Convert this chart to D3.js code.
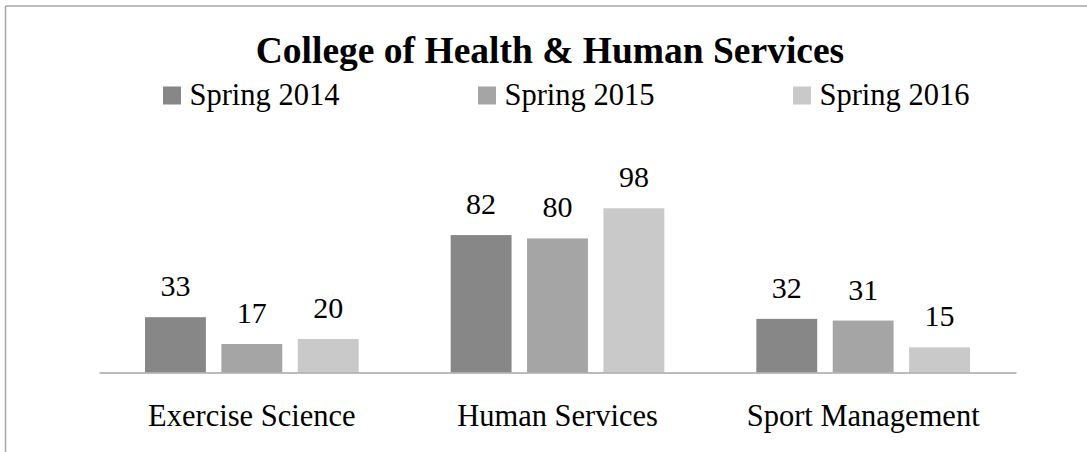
<!DOCTYPE html>
<html>
<head>
<meta charset="utf-8">
<script src="https://cdn.jsdelivr.net/npm/d3@7"></script>
<style>
  html, body { margin: 0; padding: 0; background: #ffffff; }
  svg { display: block; }
</style>
</head>
<body>
<svg id="chart" width="1087" height="452"></svg>
<script>
const title = "College of Health & Human Services";
const categories = ["Exercise Science", "Human Services", "Sport Management"];
const series = ["Spring 2014", "Spring 2015", "Spring 2016"];
const spring2014 = [33, 82, 32];
const spring2015 = [17, 80, 31];
const spring2016 = [20, 98, 15];
const seriesValues = [spring2014, spring2015, spring2016];
const colors = ["#878787", "#a5a5a5", "#c9c9c9"];

const svg = d3.select("#chart");
const font = "'Liberation Serif', 'Times New Roman', serif";

// frame (top and left border lines)
svg.append("line").attr("x1", 5.5).attr("y1", 6).attr("x2", 1087).attr("y2", 6)
  .attr("stroke", "#a6a6a6").attr("stroke-width", 1.5);
svg.append("line").attr("x1", 5.5).attr("y1", 6).attr("x2", 5.5).attr("y2", 452)
  .attr("stroke", "#a6a6a6").attr("stroke-width", 1.5);

// scales
const x0 = d3.scaleBand().domain(categories).range([99, 1016]).paddingInner(0).paddingOuter(0);
const bw = x0.bandwidth();
const x1 = d3.scaleBand().domain(series).range([bw * 0.1505, bw * 0.8495]).paddingInner(0.203).paddingOuter(0);
const y = d3.scaleLinear().domain([0, 120]).range([372.5, 372.5 - 120 * 1.676]);

// data table
const table = categories.map((c, i) => ({
  category: c,
  values: series.map((s, j) => ({ series: s, value: seriesValues[j][i], color: colors[j] }))
}));

// title
svg.append("text")
  .attr("x", 550).attr("y", 62.5)
  .attr("text-anchor", "middle")
  .attr("font-family", font).attr("font-weight", "bold").attr("font-size", 37.5)
  .attr("fill", "#000")
  .text(title);

// legend
const lx = d3.scaleBand().domain(series).range([163, 163 + 3 * 315]);
const leg = svg.append("g").selectAll("g").data(series).join("g")
  .attr("transform", d => `translate(${lx(d)},0)`);
leg.append("rect").attr("x", 0).attr("y", 86.5).attr("width", 18).attr("height", 18)
  .attr("fill", (d, i) => colors[i]);
leg.append("text").attr("x", 26.5).attr("y", 105)
  .attr("font-family", font).attr("font-size", 30.5).attr("fill", "#000")
  .text(d => d);

// bars
const groups = svg.append("g").selectAll("g").data(table).join("g")
  .attr("transform", d => `translate(${x0(d.category)},0)`);
groups.selectAll("rect").data(d => d.values).join("rect")
  .attr("x", d => x1(d.series))
  .attr("y", d => y(d.value))
  .attr("width", x1.bandwidth())
  .attr("height", d => y(0) - y(d.value))
  .attr("fill", d => d.color);
groups.selectAll("text").data(d => d.values).join("text")
  .attr("x", d => x1(d.series) + x1.bandwidth() / 2)
  .attr("y", d => y(d.value) - 21)
  .attr("text-anchor", "middle")
  .attr("font-family", font).attr("font-size", 30).attr("fill", "#000")
  .text(d => d.value);

// axis
const axis = svg.append("g").attr("transform", `translate(0,${y(0)})`)
  .call(d3.axisBottom(x0).tickSize(0).tickSizeOuter(0));
axis.select(".domain").attr("stroke", "#a6a6a6").attr("stroke-width", 1.5);
axis.selectAll(".tick text")
  .attr("y", 53).attr("dy", 0)
  .attr("font-family", font).attr("font-size", 30.5).attr("fill", "#000");
</script>
</body>
</html>
